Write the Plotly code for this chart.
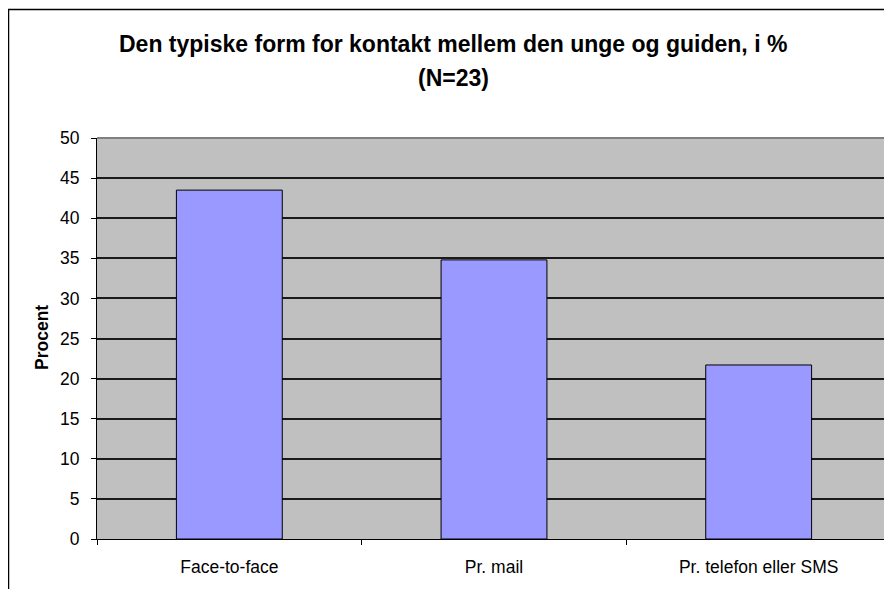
import plotly.graph_objects as go

categories = ["Face-to-face", "Pr. mail", "Pr. telefon eller SMS"]
values = [43.5, 34.8, 21.7]
title_line1 = "Den typiske form for kontakt mellem den unge og guiden, i %"
title_line2 = "(N=23)"
y_title = "Procent"

# page body has an 8px margin, so the figure is shifted by 8px
OFF = 8
W, H = 892 - OFF, 589 - OFF
L, R, T, B = 97 - OFF, 1, 138 - OFF, 50
pw = W - L - R
ph = H - T - B

def px_x(px):
    return (px - OFF - L) / pw

def px_y(py):
    return (H - B - (py - OFF)) / ph

FONT = "Liberation Sans, Arial, sans-serif"

fig = go.Figure()
fig.add_trace(go.Bar(
    x=categories, y=values,
    marker=dict(color="#9999FF", line=dict(color="black", width=1)),
    hoverinfo="x+y",
))

fig.update_layout(
    width=W, height=H,
    margin=dict(l=L, r=R, t=T, b=B, autoexpand=False),
    paper_bgcolor="white",
    plot_bgcolor="#C0C0C0",
    bargap=0.6,
    showlegend=False,
    font=dict(family=FONT, color="black", size=17),
    xaxis=dict(
        showgrid=False, showline=True, linecolor="black", linewidth=1,
        ticks="outside", tickson="boundaries", ticklen=5, tickcolor="black",
        tickfont=dict(size=17.5), ticklabelstandoff=12,
    ),
    yaxis=dict(
        range=[0, 50], dtick=5, tick0=0,
        showgrid=True, gridcolor="#1a1a1a", gridwidth=1.5,
        showline=True, linecolor="black", linewidth=1,
        ticks="outside", ticklen=5, tickcolor="black",
        tickfont=dict(size=17.5), ticklabelstandoff=8,
        zeroline=False,
    ),
    shapes=[
        # plot area top / right border (grey)
        dict(type="line", xref="paper", yref="paper", x0=0, x1=1, y0=1, y1=1,
             line=dict(color="#808080", width=2), layer="above"),
        dict(type="line", xref="paper", yref="paper", x0=1, x1=1, y0=0, y1=1,
             line=dict(color="#808080", width=2), layer="above"),
        # outer chart frame
        dict(type="rect", xref="paper", yref="paper",
             x0=px_x(8.5), x1=px_x(910), y0=px_y(9.5), y1=px_y(620),
             line=dict(color="black", width=1.5), fillcolor="rgba(0,0,0,0)",
             layer="above"),
    ],
    annotations=[
        dict(text="<b>" + title_line1 + "</b>", xref="paper", yref="paper",
             x=px_x(453), y=px_y(44), xanchor="center", yanchor="middle",
             showarrow=False, font=dict(size=23, family=FONT)),
        dict(text="<b>" + title_line2 + "</b>", xref="paper", yref="paper",
             x=px_x(453), y=px_y(78), xanchor="center", yanchor="middle",
             showarrow=False, font=dict(size=23, family=FONT)),
        dict(text="<b>" + y_title + "</b>", xref="paper", yref="paper",
             x=px_x(42), y=px_y(338), xanchor="center", yanchor="middle",
             textangle=-90, showarrow=False, font=dict(size=17.5, family=FONT)),
    ],
)

fig.write_html("out.html")
